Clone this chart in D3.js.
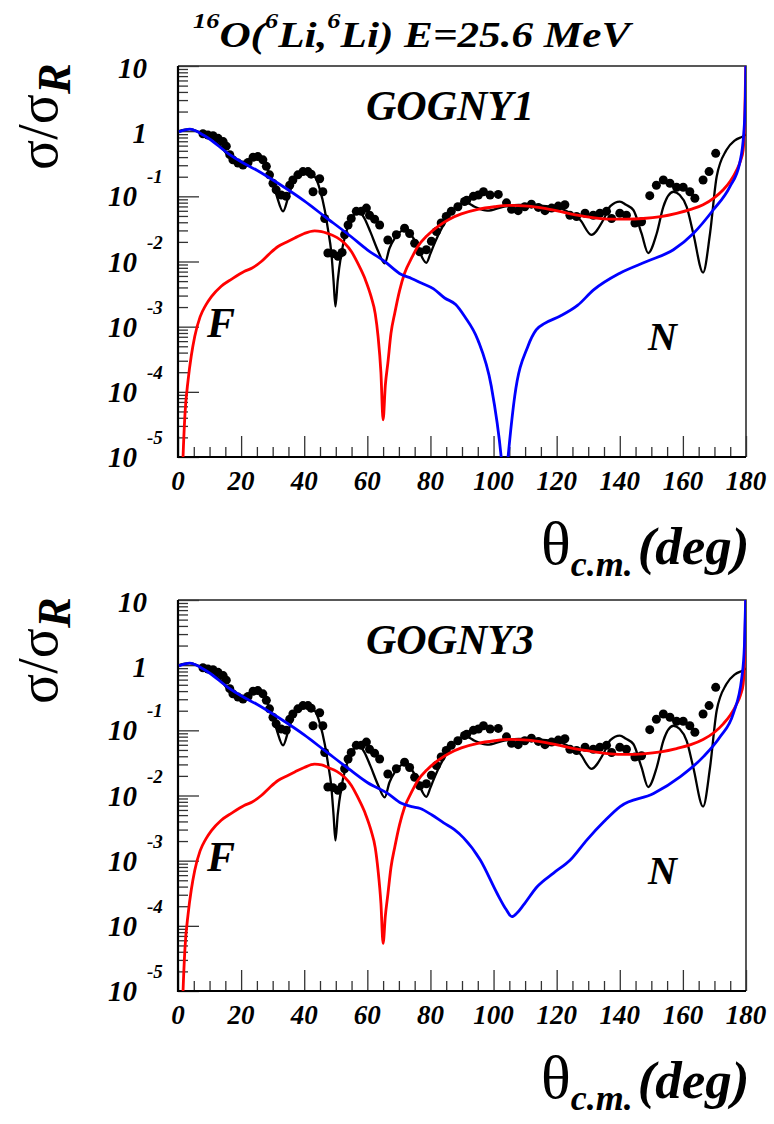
<!DOCTYPE html>
<html>
<head>
<meta charset="utf-8">
<script src="https://cdn.jsdelivr.net/npm/d3@7"></script>
<style>
body { margin: 0; background: #fff; }
svg text { font-family: "Liberation Serif", Tinos, "Times New Roman", Times, "DejaVu Serif", serif; }
</style>
</head>
<body>
<div id="chart"></div>
<script>

// [theta (deg), log10(sigma/sigmaR)]
var expData = [[7.9,-0.04],[9.5,-0.06],[11.1,-0.07],[12.7,-0.11],[14.3,-0.16],[15.3,-0.23],[16.4,-0.36],
	[17.4,-0.44],[19,-0.49],[20.6,-0.52],[22.2,-0.48],[23.8,-0.4],[25.3,-0.39],[26.9,-0.44],[28,-0.54],
	[29,-0.67],[30.1,-0.8],[31.1,-0.9],[32.7,-0.98],[34.3,-1.0],[35.4,-0.83],[36.4,-0.75],[38,-0.67],
	[39.6,-0.62],[41.2,-0.62],[42.2,-0.66],[44.9,-0.73],[42.8,-0.93],[45.9,-0.93],[46.5,-1.34],[47.5,-1.87],
	[49.1,-1.88],[50.7,-1.92],[52,-1.86],[52.8,-1.59],[53.9,-1.44],[54.9,-1.34],[56.5,-1.23],[58.1,-1.23],
	[59.7,-1.18],[60.7,-1.29],[62.3,-1.35],[63.9,-1.44],[66.5,-1.67],[69.2,-1.59],[71.8,-1.49],[73.4,-1.57],
	[75,-1.72],[76.6,-1.85],[78.7,-1.82],[80.3,-1.69],[81.9,-1.54],[83.4,-1.41],[85,-1.31],[86.6,-1.23],
	[88.7,-1.16],[90.8,-1.08],[91.5,-1.06],[93.6,-1.0],[95.2,-0.98],[96.8,-0.93],[98.9,-0.98],[101.5,-0.97],
	[104.1,-1.1],[105.7,-1.2],[107.8,-1.22],[109.9,-1.16],[112,-1.12],[114.2,-1.17],[116.3,-1.22],[118.4,-1.18],
	[120.5,-1.15],[122.6,-1.13],[124.2,-1.29],[126.3,-1.31],[129,-1.26],[131.6,-1.29],[133.7,-1.26],[135.8,-1.23],
	[137.4,-1.34],[140,-1.26],[142.1,-1.29],[144.8,-1.41],[146.9,-1.39],[149.5,-0.99],[151.6,-0.83],[153.8,-0.75],
	[155.9,-0.8],[158,-0.86],[160.1,-0.86],[162.2,-0.93],[163.8,-1.03],[166.4,-0.75],[168.3,-0.62],[170.4,-0.34]];

// full calculation (black), same in both panels
var fullCurve = [[0.3,0.0],[3.7,0.03],[7,-0.02],[10,-0.08],[13,-0.2],[16,-0.38],[19,-0.5],[21,-0.5],[23.5,-0.4],
	[25.5,-0.39],[27,-0.46],[28.5,-0.6],[31,-0.95],[33.3,-1.23],[35,-1.0],[37,-0.72],[40,-0.62],[43,-0.68],
	[45,-0.9],[46.5,-1.21],[47.5,-1.5],[48.6,-1.87],[49.3,-2.3],[49.9,-2.69],[50.6,-2.3],[51.8,-1.87],[53,-1.6],
	[54,-1.45],[55.5,-1.3],[57,-1.22],[59,-1.33],[61,-1.55],[63.5,-1.85],[65.5,-2.03],[67,-1.8],[68.7,-1.64],
	[70,-1.56],[71.8,-1.52],[74,-1.6],[76,-1.77],[77.5,-1.95],[78.7,-2.02],[80,-1.88],[81.3,-1.72],[84,-1.45],
	[86.6,-1.25],[89,-1.12],[91.5,-1.1],[94,-1.16],[98,-1.22],[103,-1.16],[108,-1.13],[114,-1.14],[121,-1.18],
	[124,-1.25],[127.4,-1.36],[131,-1.59],[134.8,-1.36],[137,-1.15],[140,-1.08],[142,-1.13],[144.3,-1.21],
	[146.9,-1.57],[149,-1.87],[151.7,-1.57],[153.8,-1.16],[157,-0.93],[159,-0.98],[161.2,-1.16],[163.3,-1.57],
	[166.4,-2.17],[168.6,-1.57],[170.7,-0.7],[173.8,-0.29],[176.5,-0.14],[179,-0.08],[180,-0.05]];

// far-side component (red)
var farG1 = [[1.2,-5.6],[1.6,-5.0],[2.2,-4.35],[3.2,-3.82],[4.2,-3.45],[5.3,-3.15],[7,-2.85],[8.8,-2.67],
	[10.6,-2.54],[13.7,-2.38],[17,-2.27],[21.1,-2.15],[23.5,-2.1],[26.4,-2.0],[29,-1.88],[31.7,-1.77],
	[34.5,-1.7],[37,-1.64],[40,-1.57],[43.3,-1.53],[45.5,-1.54],[47.5,-1.57],[50.3,-1.63],[52.8,-1.72],
	[55,-1.85],[57,-2.03],[59.3,-2.27],[61.2,-2.54],[62.5,-2.8],[63.4,-3.15],[64.3,-3.7],[65,-4.43],
	[65.7,-3.9],[66.5,-3.56],[67.5,-3.1],[68.7,-2.79],[70.2,-2.45],[71.8,-2.18],[74,-1.95],[76,-1.77],
	[79,-1.6],[82.4,-1.46],[86,-1.35],[89.8,-1.27],[95,-1.2],[100.3,-1.16],[105,-1.14],[110.9,-1.15],
	[115.7,-1.18],[121,-1.23],[126.5,-1.29],[132,-1.33],[136.9,-1.35],[142,-1.35],[147.4,-1.34],[153,-1.31],
	[158,-1.26],[162.5,-1.2],[166.4,-1.13],[170,-1.02],[172.8,-0.9],[175,-0.77],[177,-0.6],[178.3,-0.45],
	[179.1,-0.29],[179.6,0.2],[180,1.2]];
var farG3 = [[1.2,-5.6],[1.6,-5.0],[2.2,-4.35],[3.2,-3.82],[4.2,-3.45],[5.3,-3.15],[7,-2.85],[8.8,-2.67],
	[10.6,-2.54],[13.7,-2.38],[17,-2.27],[21.1,-2.15],[23.5,-2.1],[26.4,-2.0],[29,-1.88],[31.7,-1.77],
	[34.5,-1.7],[37,-1.64],[40,-1.57],[43.3,-1.52],[45.5,-1.53],[47.5,-1.57],[50.3,-1.63],[52.8,-1.72],
	[55,-1.85],[57,-2.03],[59.3,-2.27],[61.2,-2.54],[62.5,-2.8],[63.4,-3.15],[64.3,-3.65],[65,-4.27],
	[65.7,-3.85],[66.5,-3.52],[67.5,-3.1],[68.7,-2.79],[70.2,-2.45],[71.8,-2.18],[74,-1.95],[76,-1.77],
	[79,-1.6],[82.4,-1.46],[86,-1.35],[89.8,-1.27],[95,-1.2],[100.3,-1.16],[105,-1.14],[110.9,-1.15],
	[115.7,-1.18],[121,-1.23],[126.5,-1.29],[132,-1.33],[136.9,-1.36],[142,-1.37],[147.4,-1.36],[153,-1.33],
	[158,-1.28],[162.5,-1.22],[166.4,-1.14],[170,-1.03],[172.8,-0.9],[175,-0.77],[177,-0.6],[178.3,-0.45],
	[179.1,-0.29],[179.6,0.2],[180,1.2]];

// near-side component (blue)
var nearG1 = [[0.3,-0.01],[3.7,0.03],[8,-0.06],[10,-0.12],[15.8,-0.34],[20,-0.47],[25,-0.6],[31.7,-0.8],
	[40,-1.07],[46.5,-1.31],[54.9,-1.62],[60,-1.82],[65.5,-2.0],[70.8,-2.2],[74,-2.26],[77.1,-2.33],[81,-2.42],
	[84.5,-2.56],[88,-2.66],[90.8,-2.84],[95,-3.2],[99.3,-3.92],[102.4,-4.99],[103.5,-5.6],[104.6,-5.0],
	[106.7,-4.07],[110.9,-3.3],[113.5,-3.05],[116.2,-2.95],[121,-2.84],[126.7,-2.67],[131.6,-2.44],[140,-2.18],
	[148.5,-2.0],[157,-1.82],[163.3,-1.57],[169.6,-1.21],[174.9,-0.85],[178,-0.49],[179.3,-0.03],[179.8,0.5],[180,1.2]];
var nearG3 = [[0.3,-0.01],[3.7,0.03],[8,-0.06],[10,-0.12],[15.8,-0.34],[20,-0.47],[25,-0.6],[31.7,-0.8],
	[40,-1.07],[46.5,-1.31],[54.9,-1.62],[60,-1.8],[66.2,-1.96],[70.8,-2.12],[74,-2.17],[76.8,-2.2],[80.5,-2.3],
	[84.2,-2.42],[87.5,-2.52],[90.5,-2.65],[95.8,-2.99],[101.1,-3.5],[104,-3.75],[105.8,-3.86],[107.5,-3.8],
	[109.5,-3.68],[113.8,-3.4],[119,-3.19],[124.3,-2.99],[129.6,-2.68],[135,-2.4],[140.1,-2.17],[150.7,-1.97],
	[159.2,-1.71],[166.6,-1.4],[171.8,-1.1],[176,-0.74],[178.7,-0.18],[179.5,0.3],[180,1.2]];

var xTicks = [0, 20, 40, 60, 80, 100, 120, 140, 160, 180];
var yExps = [1, 0, -1, -2, -3, -4, -5];

var panels = [
	{ name: "GOGNY1", top: 66, near: nearG1, far: farG1 },
	{ name: "GOGNY3", top: 600, near: nearG3, far: farG3 }
];

var wd = 774, ht = 1124;

var svg = d3.select('#chart')
	.append("svg")
	.attr("width", wd)
	.attr("height", ht)
	.style("background", "#fff");

var x = d3.scaleLinear().domain([0, 180]).range([178, 746]);
var plotH = 391;

// title (a bit wider than the font, like the original)
var title = svg.append("g").attr("transform", "translate(193,47) scale(1.2,1)")
	.append("text")
	.attr("font-size", 36).attr("font-weight", "bold").attr("font-style", "italic");
title.append("tspan").attr("font-size", 22).attr("dy", -19).text("16");
title.append("tspan").attr("dy", 19).text("O(");
title.append("tspan").attr("font-size", 22).attr("dy", -19).text("6");
title.append("tspan").attr("dy", 19).text("Li,");
title.append("tspan").attr("font-size", 22).attr("dy", -19).text("6");
title.append("tspan").attr("dy", 19).text("Li) E=25.6 MeV");

panels.forEach(function (p, pi) {
	var top = p.top, bot = top + plotH;
	var y = d3.scaleLog().domain([1e-5, 10]).range([bot, top]);
	var g = svg.append("g");

	g.append("clipPath").attr("id", "clip" + pi)
		.append("rect").attr("x", x(0)).attr("y", top).attr("width", x(180) - x(0)).attr("height", plotH);

	// frame top/right
	g.append("path")
		.attr("d", "M" + x(0) + "," + top + "H" + x(180) + "V" + bot)
		.attr("fill", "none").attr("stroke", "#222").attr("stroke-width", 1.5);

	// log ticks on the left
	var allT = y.ticks();
	var majorT = allT.filter(function (t) { return Math.abs(Math.log10(t) - Math.round(Math.log10(t))) < 1e-6; });
	var minorT = allT.filter(function (t) { return majorT.indexOf(t) < 0; });
	g.append("g").attr("transform", "translate(" + x(0) + ",0)")
		.call(d3.axisRight(y).tickValues(minorT).tickSize(10).tickSizeOuter(0).tickFormat(""))
		.call(function (a) { a.select(".domain").remove(); a.selectAll("line").attr("stroke", "#333").attr("stroke-width", 1.3); });
	g.append("g").attr("transform", "translate(" + x(0) + ",0)")
		.call(d3.axisRight(y).tickValues(majorT).tickSize(21).tickSizeOuter(0).tickFormat(""))
		.call(function (a) { a.select(".domain").remove(); a.selectAll("line").attr("stroke", "#333").attr("stroke-width", 1.3); });

	// ticks on the bottom
	var minorX = d3.range(5, 180, 5).filter(function (d) { return d % 20 !== 0; });
	g.append("g").attr("transform", "translate(0," + bot + ")")
		.call(d3.axisTop(x).tickValues(minorX).tickSize(10).tickSizeOuter(0).tickFormat(""))
		.call(function (a) { a.select(".domain").remove(); a.selectAll("line").attr("stroke", "#333").attr("stroke-width", 1.3); });
	g.append("g").attr("transform", "translate(0," + bot + ")")
		.call(d3.axisTop(x).tickValues(xTicks).tickSize(21).tickSizeOuter(0).tickFormat(""))
		.call(function (a) { a.select(".domain").remove(); a.selectAll("line").attr("stroke", "#333").attr("stroke-width", 1.3); });

	// axis lines
	g.append("path")
		.attr("d", "M" + x(0) + "," + top + "V" + bot + "H" + x(180))
		.attr("fill", "none").attr("stroke", "#000").attr("stroke-width", 2.2);

	// x tick labels
	g.selectAll(".xl").data(xTicks).enter().append("text")
		.attr("x", function (d) { return x(d); })
		.attr("y", bot + 33)
		.attr("text-anchor", "middle")
		.attr("font-size", 27).attr("font-weight", "bold").attr("font-style", "italic")
		.text(function (d) { return d; });

	// y tick labels
	yExps.forEach(function (e) {
		var ty = y(Math.pow(10, e));
		if (e >= 0) {
			g.append("text").attr("x", 147).attr("y", ty + 12)
				.attr("text-anchor", "end")
				.attr("font-size", 29).attr("font-weight", "bold").attr("font-style", "italic")
				.text(e === 0 ? "1" : "10");
		} else {
			g.append("text").attr("x", 137).attr("y", ty + 10)
				.attr("text-anchor", "end")
				.attr("font-size", 29).attr("font-weight", "bold").attr("font-style", "italic")
				.text("10");
			g.append("text").attr("x", 147).attr("y", ty - 13)
				.attr("font-size", 19).attr("font-weight", "bold").attr("font-style", "italic")
				.text(String(e));
		}
	});

	// curves
	var line = d3.line()
		.x(function (d) { return x(d[0]); })
		.y(function (d) { return y(Math.pow(10, d[1])); })
		.curve(d3.curveMonotoneX);
	var cg = g.append("g").attr("clip-path", "url(#clip" + pi + ")");

	cg.selectAll(".dot").data(expData).enter().append("circle")
		.attr("cx", function (d) { return x(d[0]); })
		.attr("cy", function (d) { return y(Math.pow(10, d[1])); })
		.attr("r", 4.5).attr("fill", "#000");
	cg.append("path").datum(fullCurve).attr("d", line)
		.attr("fill", "none").attr("stroke", "#000").attr("stroke-width", 2.3);
	cg.append("path").datum(p.far).attr("d", line)
		.attr("fill", "none").attr("stroke", "#ff0000").attr("stroke-width", 2.8);
	cg.append("path").datum(p.near).attr("d", line)
		.attr("fill", "none").attr("stroke", "#0000ff").attr("stroke-width", 2.8);

	// in-plot labels
	g.append("text").attr("x", 366).attr("y", top + 54)
		.attr("font-size", 42).attr("font-weight", "bold").attr("font-style", "italic")
		.text(p.name);
	g.append("text").attr("x", 207).attr("y", top + 271)
		.attr("font-size", 42).attr("font-weight", "bold").attr("font-style", "italic")
		.text("F");
	g.append("text").attr("x", 648).attr("y", top + 284)
		.attr("font-size", 40).attr("font-weight", "bold").attr("font-style", "italic")
		.text("N");

	// y title
	var yt = g.append("text")
		.attr("transform", "translate(57," + (top + 104) + ") rotate(-90)")
		.attr("font-size", 56);
	yt.append("tspan").text("σ/σ");
	yt.append("tspan").attr("font-size", 46).attr("font-weight", "bold").attr("font-style", "italic")
		.attr("dy", 13).text("R");

	// x title
	var xt = g.append("text")
		.attr("x", 541).attr("y", bot + 107)
		.attr("font-size", 53);
	xt.append("tspan").attr("font-size", 62).text("θ");
	xt.append("tspan").attr("font-size", 36).attr("font-weight", "bold").attr("font-style", "italic")
		.attr("dy", 12).text("c.m.");
	xt.append("tspan").attr("font-weight", "bold").attr("font-style", "italic")
		.attr("dx", 5).attr("dy", -12).text("(deg)");
});

</script>
</body>
</html>
